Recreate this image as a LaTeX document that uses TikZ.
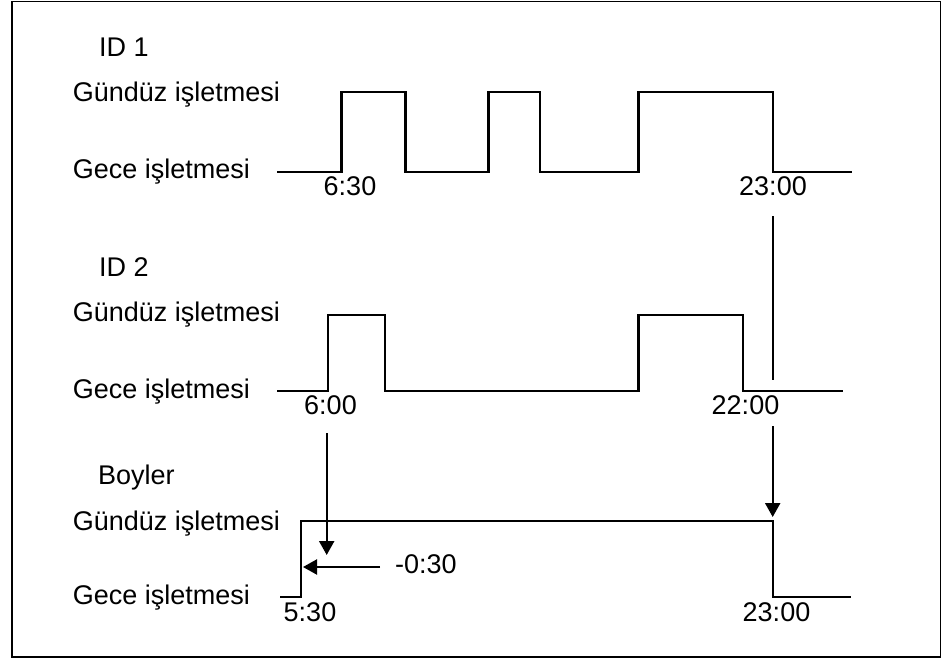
\documentclass[tikz,border=0pt]{standalone}
\usepackage{fontspec}
\setmainfont{Liberation Sans}
\usetikzlibrary{arrows.meta}
\begin{document}
\begin{tikzpicture}[x=1pt,y=-1pt,
  lbl/.style={anchor=base west,inner sep=0pt,font=\fontsize{27}{31}\selectfont},
  tlbl/.style={anchor=base,inner sep=0pt,font=\fontsize{27}{31}\selectfont},
  wave/.style={line width=2.2pt,line join=miter},
  conn/.style={line width=2.2pt},
  arr/.style={conn,-{Triangle[length=14pt,width=15pt]}}]
\useasboundingbox (0,0) rectangle (948,659);
\draw[line width=1.3pt] (12,1.5) rectangle (940.5,657);

% ---- ID 1 ----
\node[lbl] (id1) at (99,56.7) {ID 1};
\node[lbl] (g1) at (72.7,101.7) {Gündüz işletmesi};
\node[lbl] (n1) at (72.7,178.3) {Gece işletmesi};
\draw[wave] (277,171.7) -- (341.5,171.7) |- (405.5,92) |- (488.5,171.7)
  |- (539.7,92) |- (638.5,171.7) |- (773,92) |- (852,171.7);
\node[tlbl] (t1a) at (350,195) {6:30};
\node[tlbl] (t1b) at (773,195) {23:00};

% ---- ID 2 ----
\node[lbl] (id2) at (99,276.7) {ID 2};
\node[lbl] (g2) at (72.7,321.7) {Gündüz işletmesi};
\node[lbl] (n2) at (72.7,398.3) {Gece işletmesi};
\draw[wave] (277,390.7) -- (328,390.7) |- (385,315) |- (638.5,390.7)
  |- (742.7,315) |- (842.7,390.7);
\node[tlbl] (t2a) at (330.5,414) {6:00};
\node[tlbl] (t2b) at (745.5,414) {22:00};

% ---- Boyler ----
\node[lbl] (id3) at (98,484) {Boyler};
\node[lbl] (g3) at (72.7,530) {Gündüz işletmesi};
\node[lbl] (n3) at (72.7,604) {Gece işletmesi};
\draw[wave] (280,596.7) -- (300.7,596.7) |- (772.7,521) |- (850.7,596.7);
\node[tlbl] (t3a) at (310,621) {5:30};
\node[tlbl] (t3b) at (776.5,621) {23:00};
\node[lbl] (d3) at (395,573.3) {-0:30};

% ---- connectors ----
\coordinate (c1a) at (772.7,216);
\coordinate (c1b) at (772.7,380);
\coordinate (c2a) at (772.7,426);
\coordinate (c2b) at (772.7,517);
\coordinate (c3a) at (326.7,433);
\coordinate (c3b) at (326.7,555);
\coordinate (c4a) at (380,567);
\coordinate (c4b) at (303,567);
\draw[conn] (c1a) -- (c1b);
\draw[arr] (c2a) -- (c2b);
\draw[arr] (c3a) -- (c3b);
\draw[arr] (c4a) -- (c4b);
\end{tikzpicture}
\end{document}
